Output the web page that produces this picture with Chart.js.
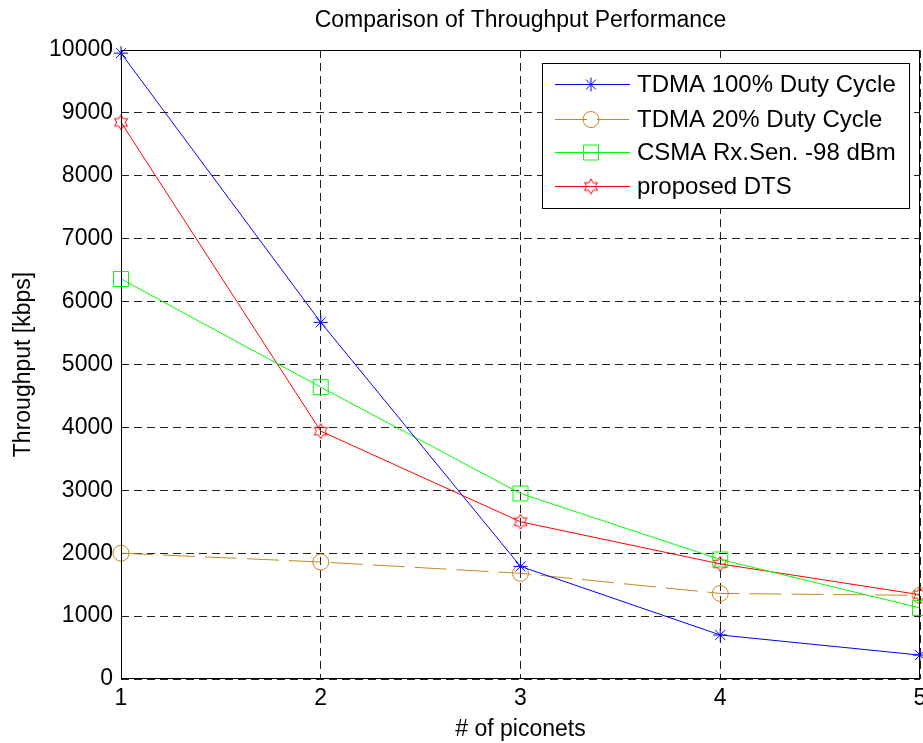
<!DOCTYPE html>
<html>
<head>
<meta charset="utf-8">
<script src="https://cdn.jsdelivr.net/npm/chart.js@4"></script>
<style>
  html, body { margin: 0; padding: 0; background: #fff; }
  #wrap { width: 923px; height: 743px; }
</style>
</head>
<body>
<div id="wrap"><canvas id="chart" width="923" height="743"></canvas></div>
<script>
const piconets = [1, 2, 3, 4, 5];
const tdma100 = [9950, 5670, 1790, 700, 380];
const tdma20 = [2000, 1860, 1680, 1360, 1330];
const csma = [6360, 4640, 2950, 1900, 1130];
const dts = [8850, 3940, 2500, 1830, 1340];
const seriesNames = ["TDMA 100% Duty Cycle", "TDMA 20% Duty Cycle", "CSMA Rx.Sen. -98 dBm", "proposed DTS"];
const chartTitle = 'Comparison of Throughput Performance';

const FONT = "'Liberation Sans', Arial, sans-serif";

// hexagram marker like matlab 'h'
function hexagram(color) {
  const c = document.createElement('canvas');
  c.width = 18; c.height = 18;
  const g = c.getContext('2d');
  const R = 7.5, r = R / Math.sqrt(3);
  g.beginPath();
  for (let i = 0; i < 12; i++) {
    const a = -Math.PI / 2 + i * Math.PI / 6;
    const rad = i % 2 === 0 ? R : r;
    const x = 9 + rad * Math.cos(a), y = 9 + rad * Math.sin(a);
    if (i === 0) g.moveTo(x, y); else g.lineTo(x, y);
  }
  g.closePath();
  g.strokeStyle = color;
  g.lineWidth = 1;
  g.stroke();
  return c;
}

function toPoints(vals) {
  return vals.map((v, i) => ({ x: piconets[i], y: v }));
}

const boxPlugin = {
  id: 'box',
  afterDraw(chart) {
    const { ctx, chartArea: a } = chart;
    ctx.save();
    ctx.strokeStyle = '#000';
    ctx.lineWidth = 1;
    ctx.strokeRect(a.left + 0.5, a.top + 0.5, a.right - a.left - 1, a.bottom - a.top - 1);

    // title centred over the axes
    ctx.fillStyle = '#000';
    ctx.font = '23px ' + FONT;
    ctx.textAlign = 'center';
    ctx.textBaseline = 'middle';
    ctx.fillText(chartTitle, (a.left + a.right) / 2, 21);

    // legend
    const lx = 542, ly = 63, lw = 367, lh = 145;
    ctx.fillStyle = '#fff';
    ctx.fillRect(lx, ly, lw, lh);
    ctx.strokeRect(lx + 0.5, ly + 0.5, lw, lh);
    const rows = [84, 119, 152, 186];
    chart.data.datasets.forEach((ds, i) => {
      const y = rows[i] + 0.5;
      ctx.save();
      ctx.strokeStyle = ds.borderColor;
      ctx.lineWidth = 1;
      ctx.setLineDash(ds.borderDash || []);
      ctx.beginPath();
      ctx.moveTo(555, y);
      ctx.lineTo(630, y);
      ctx.stroke();
      ctx.restore();
      ctx.save();
      ctx.strokeStyle = ds.pointBorderColor;
      ctx.fillStyle = 'rgba(0,0,0,0)';
      ctx.lineWidth = 1;
      Chart.helpers.drawPoint(ctx, {
        pointStyle: ds.pointStyle, radius: ds.pointRadius, rotation: 0, borderWidth: 1
      }, 591, y);
      ctx.restore();
      ctx.fillStyle = '#000';
      ctx.font = '24px ' + FONT;
      ctx.textBaseline = 'middle';
      ctx.textAlign = 'left';
      ctx.fillText(ds.label, 637, rows[i] + 1);
    });
    ctx.restore();
  }
};

const mk = (label, data, color, style, radius, dash) => ({
  label: label,
  data: toPoints(data),
  borderColor: color,
  backgroundColor: 'rgba(0,0,0,0)',
  pointBorderColor: color,
  pointBackgroundColor: 'rgba(0,0,0,0)',
  pointStyle: style,
  pointRadius: radius,
  pointBorderWidth: 1,
  borderWidth: 1,
  borderDash: dash || [],
  tension: 0,
  fill: false,
  clip: false
});

new Chart(document.getElementById('chart'), {
  type: 'line',
  data: {
    datasets: [
      mk(seriesNames[0], tdma100, '#0000ff', 'star', 7),
      mk(seriesNames[1], tdma20, '#c08a1e', 'circle', 8, [32, 10]),
      mk(seriesNames[2], csma, '#00ff00', 'rect', 10.6),
      mk(seriesNames[3], dts, '#ff0000', hexagram('#ff0000'), 7)
    ]
  },
  options: {
    responsive: false,
    animation: false,
    layout: { autoPadding: false, padding: { left: 0, right: 3, top: 50, bottom: 0 } },
    plugins: {
      legend: { display: false },
      tooltip: { enabled: false },
      title: { display: false }
    },
    scales: {
      x: {
        type: 'linear',
        min: 1, max: 5,
        ticks: { stepSize: 1, color: '#000', font: { family: FONT, size: 23 }, padding: 6, callback: v => String(v) },
        grid: { color: '#222', drawTicks: false, lineWidth: 1 },
        border: { display: false, dash: [8, 5] },
        title: { display: true, text: '# of piconets', color: '#000', font: { family: FONT, size: 23 }, padding: { top: 0, bottom: 0 } },
        afterFit(s) { s.height = 64; s.paddingLeft = 0; s.paddingRight = 0; }
      },
      y: {
        min: 0, max: 10000,
        ticks: { stepSize: 1000, color: '#000', font: { family: FONT, size: 23 }, padding: 8, callback: v => String(v) },
        grid: { color: '#222', drawTicks: false, lineWidth: 1 },
        border: { display: false, dash: [8, 5] },
        title: { display: true, text: 'Throughput [kbps]', color: '#000', font: { family: FONT, size: 23 }, padding: { top: 10, bottom: 0 } },
        afterFit(s) { s.width = 121; s.paddingTop = 0; s.paddingBottom = 0; }
      }
    }
  },
  plugins: [boxPlugin]
});
</script>
</body>
</html>
